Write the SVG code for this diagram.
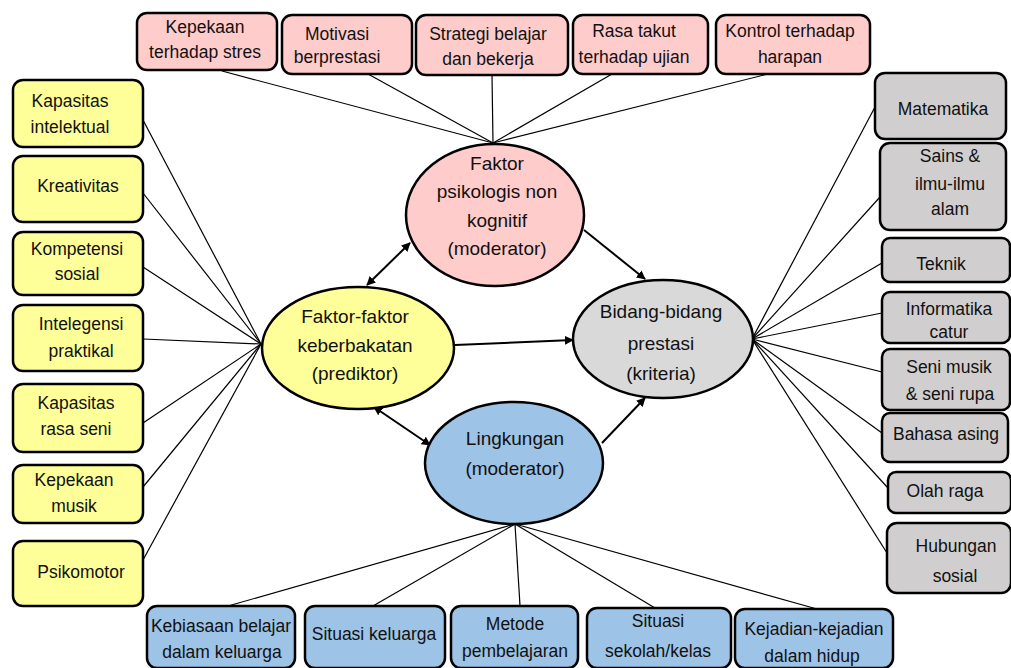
<svg xmlns="http://www.w3.org/2000/svg" width="1011" height="668" viewBox="0 0 1011 668">
<defs>
<marker id="ah" viewBox="0 0 10 10" refX="9" refY="5" markerWidth="9" markerHeight="9" markerUnits="userSpaceOnUse" orient="auto-start-reverse"><path d="M0,0 L10,5 L0,10 z" fill="#000"/></marker>
<style>
.bx{stroke:#000;stroke-width:2.5}
.pk{fill:#FFCCCC}.yl{fill:#FFFF99}.gr{fill:#D0CECE}.bl{fill:#9DC3E6}
.el{stroke:#000;stroke-width:2.5}
text{font-family:"Liberation Sans",Arial,sans-serif;font-size:17.5px;fill:#111;text-anchor:middle}
.big{font-size:19px}
.ln{stroke:#000;stroke-width:1.2;fill:none}
.ar{stroke:#000;stroke-width:2;fill:none}
</style>
</defs>
<rect width="1011" height="668" fill="#fff"/>
<g id="connectors">
<line class="ln" x1="222" y1="71" x2="493" y2="143"/>
<line class="ln" x1="368" y1="74" x2="493" y2="143"/>
<line class="ln" x1="492" y1="75" x2="493" y2="143"/>
<line class="ln" x1="612" y1="74" x2="493" y2="143"/>
<line class="ln" x1="768" y1="74" x2="493" y2="143"/>
<line class="ln" x1="143" y1="120" x2="261" y2="344"/>
<line class="ln" x1="143" y1="193" x2="261" y2="344"/>
<line class="ln" x1="143" y1="267" x2="261" y2="344"/>
<line class="ln" x1="143" y1="339" x2="261" y2="344"/>
<line class="ln" x1="143" y1="423" x2="261" y2="344"/>
<line class="ln" x1="143" y1="487" x2="261" y2="344"/>
<line class="ln" x1="143" y1="560" x2="261" y2="344"/>
<line class="ln" x1="875" y1="107" x2="752" y2="339"/>
<line class="ln" x1="880" y1="197" x2="752" y2="339"/>
<line class="ln" x1="882" y1="263" x2="752" y2="339"/>
<line class="ln" x1="882" y1="313" x2="752" y2="339"/>
<line class="ln" x1="882" y1="372" x2="752" y2="339"/>
<line class="ln" x1="882" y1="433" x2="752" y2="339"/>
<line class="ln" x1="888" y1="488" x2="752" y2="339"/>
<line class="ln" x1="887" y1="553" x2="752" y2="339"/>
<line class="ln" x1="228" y1="606" x2="515" y2="524"/>
<line class="ln" x1="373" y1="606" x2="515" y2="524"/>
<line class="ln" x1="520" y1="606" x2="515" y2="524"/>
<line class="ln" x1="655" y1="608" x2="515" y2="524"/>
<line class="ln" x1="817" y1="609" x2="515" y2="524"/>
<line class="ar" x1="367" y1="285" x2="410" y2="243" marker-start="url(#ah)" marker-end="url(#ah)"/>
<line class="ar" x1="584" y1="230" x2="645" y2="279" marker-end="url(#ah)"/>
<line class="ar" x1="455" y1="345" x2="573" y2="340" marker-end="url(#ah)"/>
<line class="ar" x1="374" y1="407" x2="430" y2="445" marker-start="url(#ah)" marker-end="url(#ah)"/>
<line class="ar" x1="602" y1="443" x2="645" y2="398" marker-end="url(#ah)"/>
</g>
<g id="e-psikologis"><ellipse class="el pk" cx="495" cy="215" rx="89" ry="71"/>
<text class="big" x="497" y="170">Faktor</text><text class="big" x="497" y="198">psikologis non</text><text class="big" x="497" y="227">kognitif</text><text class="big" x="497" y="255">(moderator)</text></g>
<g id="e-bakat"><ellipse class="el yl" cx="358" cy="348" rx="96" ry="61"/>
<text class="big" x="355" y="323">Faktor-faktor</text><text class="big" x="355" y="352">keberbakatan</text><text class="big" x="355" y="380">(prediktor)</text></g>
<g id="e-prestasi"><ellipse class="el" fill="#D9D9D9" cx="663" cy="339" rx="90" ry="59"/>
<text class="big" x="661" y="318">Bidang-bidang</text><text class="big" x="661" y="350">prestasi</text><text class="big" x="661" y="380">(kriteria)</text></g>
<g id="e-lingkungan"><ellipse class="el bl" cx="514" cy="463" rx="89" ry="61"/>
<text class="big" x="515" y="445">Lingkungan</text><text class="big" x="515" y="475">(moderator)</text></g>
<g id="t1"><rect class="bx pk" x="137" y="13" width="140" height="57" rx="10"/><text x="205" y="33">Kepekaan</text><text x="205" y="58">terhadap stres</text></g>
<g id="t2"><rect class="bx pk" x="282" y="15" width="130" height="59" rx="10"/><text x="337" y="40">Motivasi</text><text x="337" y="63">berprestasi</text></g>
<g id="t3"><rect class="bx pk" x="416" y="15" width="152" height="60" rx="10"/><text x="488" y="40">Strategi belajar</text><text x="488" y="65">dan bekerja</text></g>
<g id="t4"><rect class="bx pk" x="573" y="15" width="135" height="59" rx="10"/><text x="634" y="37">Rasa takut</text><text x="634" y="63">terhadap ujian</text></g>
<g id="t5"><rect class="bx pk" x="716" y="15" width="154" height="59" rx="10"/><text x="790" y="37">Kontrol terhadap</text><text x="790" y="63">harapan</text></g>
<g id="l1"><rect class="bx yl" x="13" y="80" width="130" height="67" rx="10"/><text x="70" y="107">Kapasitas</text><text x="70" y="133">intelektual</text></g>
<g id="l2"><rect class="bx yl" x="13" y="156" width="130" height="66" rx="10"/><text x="78" y="192">Kreativitas</text></g>
<g id="l3"><rect class="bx yl" x="13" y="232" width="130" height="63" rx="10"/><text x="77" y="255">Kompetensi</text><text x="77" y="280">sosial</text></g>
<g id="l4"><rect class="bx yl" x="13" y="305" width="130" height="66" rx="10"/><text x="81" y="330">Intelegensi</text><text x="81" y="357">praktikal</text></g>
<g id="l5"><rect class="bx yl" x="13" y="384" width="130" height="68" rx="10"/><text x="76" y="409">Kapasitas</text><text x="76" y="435">rasa seni</text></g>
<g id="l6"><rect class="bx yl" x="13" y="465" width="130" height="58" rx="10"/><text x="74" y="486">Kepekaan</text><text x="74" y="512">musik</text></g>
<g id="l7"><rect class="bx yl" x="13" y="541" width="130" height="65" rx="10"/><text x="81" y="578">Psikomotor</text></g>
<g id="r1"><rect class="bx gr" x="875" y="73" width="131" height="66" rx="10"/><text x="943" y="115">Matematika</text></g>
<g id="r2"><rect class="bx gr" x="880" y="143" width="126" height="87" rx="10"/><text x="950" y="162">Sains &amp;</text><text x="950" y="190">ilmu-ilmu</text><text x="950" y="215">alam</text></g>
<g id="r3"><rect class="bx gr" x="882" y="238" width="128" height="44" rx="8"/><text x="941" y="270">Teknik</text></g>
<g id="r4"><rect class="bx gr" x="882" y="292" width="128" height="51" rx="8"/><text x="949" y="315">Informatika</text><text x="949" y="338">catur</text></g>
<g id="r5"><rect class="bx gr" x="882" y="349" width="128" height="61" rx="8"/><text x="949" y="373">Seni musik</text><text x="950" y="400">&amp; seni rupa</text></g>
<g id="r6"><rect class="bx gr" x="882" y="413" width="126" height="49" rx="8"/><text x="946" y="440">Bahasa asing</text></g>
<g id="r7"><rect class="bx gr" x="888" y="472" width="123" height="41" rx="8"/><text x="945" y="497">Olah raga</text></g>
<g id="r8"><rect class="bx gr" x="887" y="523" width="124" height="70" rx="10"/><text x="956" y="552">Hubungan</text><text x="955" y="582">sosial</text></g>
<g id="b1"><rect class="bx bl" x="147" y="606" width="148" height="62" rx="10"/><text x="221" y="632">Kebiasaan belajar</text><text x="222" y="658">dalam keluarga</text></g>
<g id="b2"><rect class="bx bl" x="305" y="606" width="140" height="62" rx="10"/><text x="374" y="640">Situasi keluarga</text></g>
<g id="b3"><rect class="bx bl" x="451" y="606" width="127" height="62" rx="10"/><text x="515" y="630">Metode</text><text x="515" y="657">pembelajaran</text></g>
<g id="b4"><rect class="bx bl" x="587" y="608" width="144" height="60" rx="10"/><text x="658" y="627">Situasi</text><text x="658" y="657">sekolah/kelas</text></g>
<g id="b5"><rect class="bx bl" x="735" y="609" width="158" height="59" rx="10"/><text x="814" y="635">Kejadian-kejadian</text><text x="812" y="662">dalam hidup</text></g>
</svg>
